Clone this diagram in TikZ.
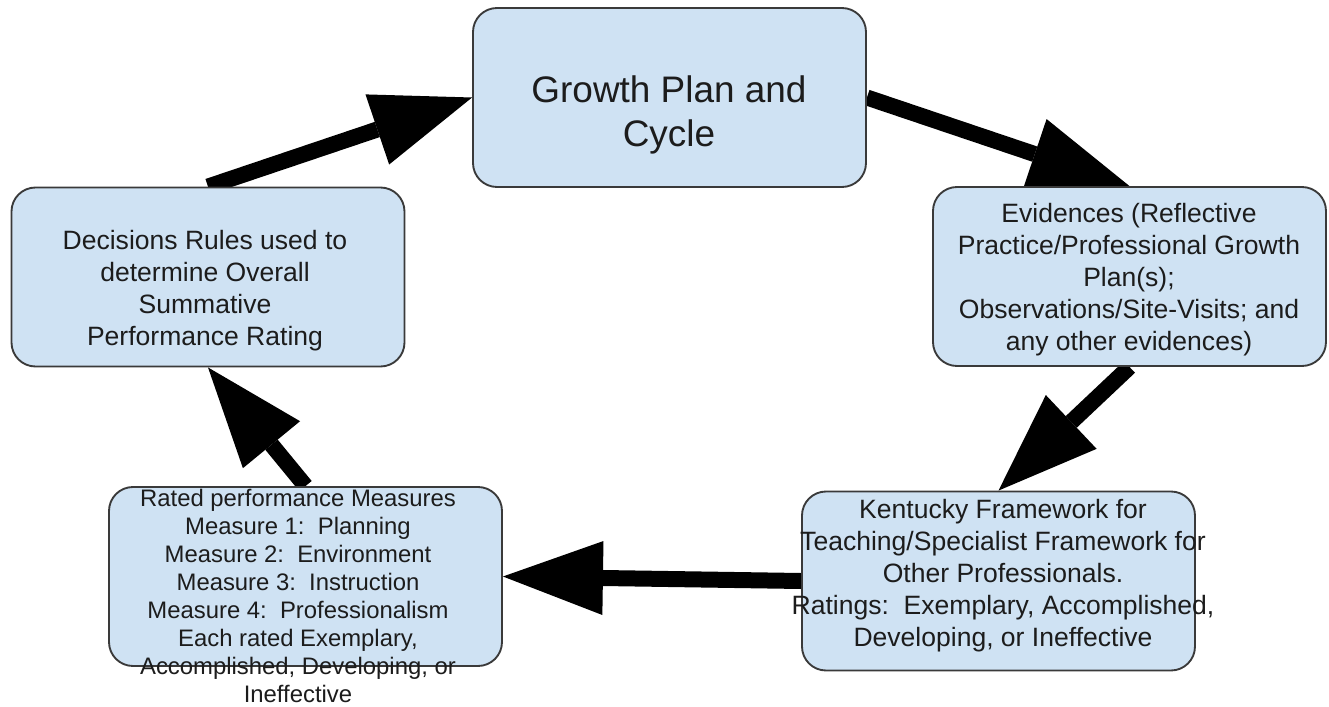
\documentclass[tikz,border=0pt]{standalone}
\usepackage{fontspec}
\setmainfont{Liberation Sans}
\usetikzlibrary{arrows.meta,backgrounds}
\definecolor{boxfill}{HTML}{CFE2F3}
\definecolor{boxline}{HTML}{3A3A3A}
\definecolor{ink}{HTML}{1C1C1C}
\begin{document}
\begin{tikzpicture}[x=0.75pt,y=-0.75pt,
  stage/.style={draw=boxline, line width=1.4pt, fill=boxfill, rounded corners=18pt,
    minimum width=294.75pt, minimum height=134.25pt, inner sep=0pt},
  caption/.style={anchor=north, align=center, inner sep=0pt, text=ink,
    font=\fontsize{19.9}{24}\selectfont},
  flow/.style={line width=12pt, -{Triangle[length=75pt,width=55.5pt,line width=0pt]}}]
\useasboundingbox (0,0) rectangle (1329,707);

% the five stages of the cycle
\node[stage] (growth) at (669.5,97.5) {};
\node[stage] (evid)   at (1129.5,276.5) {};
\node[stage] (kyfw)   at (998.5,581) {};
\node[stage] (rated)  at (305.5,576.5) {};
\node[stage] (rules)  at (208,277) {};

% stage texts
\node[caption, font=\fontsize{27.7}{33}\selectfont] (growth-text) at (669,75)
  {Growth Plan and\\Cycle};
\node[caption] (evid-text) at (1129,203)
  {Evidences (Reflective\\Practice/Professional Growth\\Plan(s);\\Observations/Site-Visits; and\\any other evidences)};
\node[caption] (kyfw-text) at (1003,499)
  {Kentucky Framework for\\Teaching/Specialist Framework for\\Other Professionals.\\Ratings:\ \ Exemplary, Accomplished,\\Developing, or Ineffective};
\node[caption, font=\fontsize{17.9}{21}\selectfont] (rated-text) at (298,488.5)
  {Rated performance Measures\\Measure 1:\ \ Planning\\Measure 2:\ \ Environment\\Measure 3:\ \ Instruction\\Measure 4:\ \ Professionalism\\Each rated Exemplary,\\Accomplished, Developing, or\\Ineffective};
\node[caption] (rules-text) at (205,230)
  {Decisions Rules used to\\determine Overall\\Summative\\Performance Rating};

% arrows run behind the boxes
\begin{scope}[on background layer]
  \fill[white] (0,0) rectangle (1329,707);
  \draw[flow] (rules.north) -- (growth.west);
  \draw[flow] (growth.east) -- (evid.north);
  \draw[flow] (evid.south)  -- (kyfw.north);
  \draw[flow] (kyfw.west)   -- (rated.east);
  \draw[flow] (rated.north) -- (rules.south);
\end{scope}
\end{tikzpicture}
\end{document}
